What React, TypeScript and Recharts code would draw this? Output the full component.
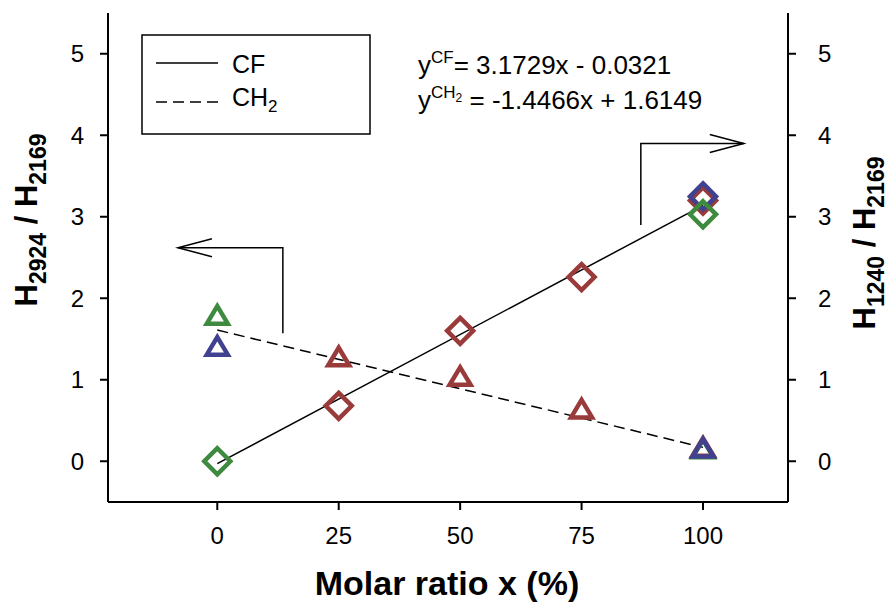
import {
  ComposedChart,
  Scatter,
  XAxis,
  YAxis,
} from "recharts";

const FONT = "'Liberation Sans', Arial, sans-serif";

const xTicks = [0, 25, 50, 75, 100];
const yTicks = [0, 1, 2, 3, 4, 5];

// H1240 / H2169 (diamonds, CF)
const cfRed = [
  { x: 25, y: 0.68 },
  { x: 50, y: 1.6 },
  { x: 75, y: 2.26 },
  { x: 100, y: 3.2 },
];
const cfBlue = [{ x: 100, y: 3.25 }];
const cfGreen = [
  { x: 0, y: 0 },
  { x: 100, y: 3.03 },
];

// H2924 / H2169 (triangles, CH2)
const ch2Red = [
  { x: 25, y: 1.27 },
  { x: 50, y: 1.03 },
  { x: 75, y: 0.63 },
  { x: 100, y: 0.16 },
];
const ch2Green = [
  { x: 0, y: 1.78 },
  { x: 100, y: 0.14 },
];
const ch2Blue = [
  { x: 0, y: 1.4 },
  { x: 100, y: 0.15 },
];

// fitted lines, end points
const cfFit = [
  { x: 0, y: -0.03 },
  { x: 100, y: 3.14 },
];
const ch2Fit = [
  { x: 0, y: 1.61 },
  { x: 100, y: 0.17 },
];

// annotation arrows (data coordinates)
const arrowLeft = [
  { x: 13.5, y: 1.57 },
  { x: 13.5, y: 2.62 },
  { x: -8.1, y: 2.62, tip: "left" },
];
const arrowRight = [
  { x: 87.2, y: 2.9 },
  { x: 87.2, y: 3.9 },
  { x: 108.4, y: 3.9, tip: "right" },
];

const RED = "#9a3b3b";
const GREEN = "#3e8a3e";
const BLUE = "#40418f";

const Diamond = (color: string) => (props: any) => {
  const { cx, cy } = props;
  const r = 13;
  return (
    <path
      d={`M${cx},${cy - r} L${cx + r},${cy} L${cx},${cy + r} L${cx - r},${cy} Z`}
      fill="none"
      stroke={color}
      strokeWidth={4.5}
    />
  );
};

const Triangle = (color: string) => (props: any) => {
  const { cx, cy } = props;
  return (
    <path
      d={`M${cx},${cy - 10} L${cx + 10.5},${cy + 7.5} L${cx - 10.5},${cy + 7.5} Z`}
      fill="none"
      stroke={color}
      strokeWidth={4.5}
    />
  );
};

const Nothing = () => <g />;

const ArrowTip = (props: any) => {
  const { cx, cy, payload } = props;
  if (!payload || !payload.tip) return <g />;
  const d = payload.tip === "left" ? 1 : -1;
  return (
    <path
      d={`M${cx + d * 34},${cy - 9} L${cx},${cy} L${cx + d * 34},${cy + 9}`}
      fill="none"
      stroke="#000"
      strokeWidth={1.5}
    />
  );
};

const tickStyle = { fill: "#000", fontSize: 24, fontFamily: FONT };
const axisLine = { stroke: "#000", strokeWidth: 2 };
const tickLine = { stroke: "#000", strokeWidth: 2 };

export default function App() {
  return (
    <div style={{ position: "absolute", left: 0, top: 0, background: "#fff" }}>
      <ComposedChart
        width={893}
        height={610}
        margin={{ top: 13, right: 0, bottom: 0, left: 0 }}
        style={{ fontFamily: FONT }}
      >
        <XAxis
          type="number"
          dataKey="x"
          domain={[-22.5, 117.5]}
          ticks={xTicks}
          height={108}
          tick={tickStyle}
          tickSize={8}
          tickMargin={17}
          axisLine={axisLine}
          tickLine={tickLine}
          allowDataOverflow
        />
        <XAxis
          xAxisId="top"
          orientation="top"
          type="number"
          domain={[-22.5, 117.5]}
          height={0}
          tick={false}
          tickLine={false}
          axisLine={axisLine}
        />
        <YAxis
          yAxisId="left"
          type="number"
          dataKey="y"
          domain={[-0.5, 5.5]}
          ticks={yTicks}
          width={108}
          tick={tickStyle}
          tickSize={8}
          tickMargin={16}
          axisLine={axisLine}
          tickLine={tickLine}
          allowDataOverflow
        />
        <YAxis
          yAxisId="right"
          orientation="right"
          type="number"
          dataKey="y"
          domain={[-0.5, 5.5]}
          ticks={yTicks}
          width={105}
          tick={{ ...tickStyle, textAnchor: "start" }}
          tickSize={8}
          tickMargin={22}
          axisLine={axisLine}
          tickLine={tickLine}
          allowDataOverflow
        />

        <Scatter
          yAxisId="right"
          data={cfFit}
          line={{ stroke: "#000", strokeWidth: 1.5 }}
          shape={Nothing}
          isAnimationActive={false}
        />
        <Scatter
          yAxisId="left"
          data={ch2Fit}
          line={{ stroke: "#000", strokeWidth: 1.5, strokeDasharray: "11 6" }}
          shape={Nothing}
          isAnimationActive={false}
        />
        <Scatter
          yAxisId="left"
          data={arrowLeft}
          line={{ stroke: "#000", strokeWidth: 1.5 }}
          shape={ArrowTip}
          isAnimationActive={false}
        />
        <Scatter
          yAxisId="right"
          data={arrowRight}
          line={{ stroke: "#000", strokeWidth: 1.5 }}
          shape={ArrowTip}
          isAnimationActive={false}
        />

        <Scatter yAxisId="right" data={cfRed} shape={Diamond(RED)} isAnimationActive={false} />
        <Scatter yAxisId="right" data={cfBlue} shape={Diamond(BLUE)} isAnimationActive={false} />
        <Scatter yAxisId="right" data={cfGreen} shape={Diamond(GREEN)} isAnimationActive={false} />
        <Scatter yAxisId="left" data={ch2Red} shape={Triangle(RED)} isAnimationActive={false} />
        <Scatter yAxisId="left" data={ch2Green} shape={Triangle(GREEN)} isAnimationActive={false} />
        <Scatter yAxisId="left" data={ch2Blue} shape={Triangle(BLUE)} isAnimationActive={false} />

        {/* legend box */}
        <g fontFamily={FONT} fill="#000">
          <rect x={142} y={35} width={228} height={99} fill="none" stroke="#000" strokeWidth={1.5} />
          <line x1={156} y1={63} x2={218} y2={63} stroke="#000" strokeWidth={1.5} />
          <line x1={156} y1={102} x2={218} y2={102} stroke="#000" strokeWidth={1.5} strokeDasharray="11 6" />
          <text x={232} y={73} fontSize={25}>CF</text>
          <text x={232} y={106} fontSize={25}>
            CH<tspan fontSize={17} dy={6}>2</tspan>
          </text>

          {/* fit equations */}
          <text x={418} y={74} fontSize={26}>
            y<tspan fontSize={17} dy={-11}>CF</tspan>
            <tspan dy={11}>= 3.1729x - 0.0321</tspan>
          </text>
          <text x={418} y={109} fontSize={26}>
            y<tspan fontSize={17} dy={-11}>CH</tspan>
            <tspan fontSize={12} dy={4}>2</tspan>
            <tspan dy={7}> = -1.4466x + 1.6149</tspan>
          </text>

          {/* axis titles */}
          <text
            transform="translate(37,220) rotate(-90)"
            textAnchor="middle"
            fontSize={31}
            fontWeight="bold"
          >
            H<tspan fontSize={23} dy={9}>2924</tspan>
            <tspan dy={-9}> / H</tspan>
            <tspan fontSize={23} dy={9}>2169</tspan>
          </text>
          <text
            transform="translate(875,243) rotate(-90)"
            textAnchor="middle"
            fontSize={31}
            fontWeight="bold"
          >
            H<tspan fontSize={23} dy={9}>1240</tspan>
            <tspan dy={-9}> / H</tspan>
            <tspan fontSize={23} dy={9}>2169</tspan>
          </text>
          <text x={447} y={595} textAnchor="middle" fontSize={34} fontWeight="bold">
            Molar ratio x (%)
          </text>
        </g>
      </ComposedChart>
    </div>
  );
}
